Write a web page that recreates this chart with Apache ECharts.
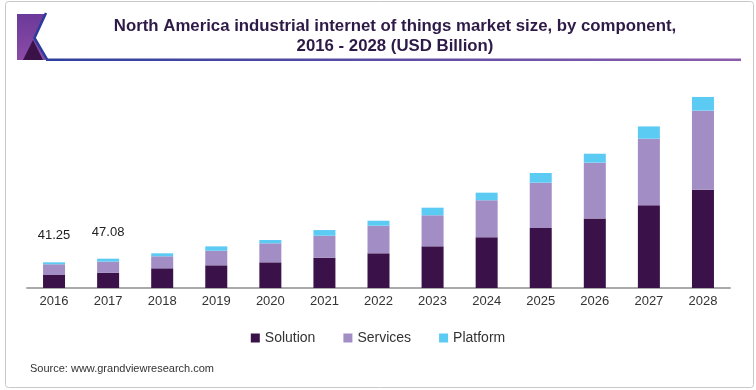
<!DOCTYPE html>
<html>
<head>
<meta charset="utf-8">
<style>
  html, body { margin: 0; padding: 0; background: #fff; }
  #chart { width: 756px; height: 390px; }
</style>
<script src="https://cdn.jsdelivr.net/npm/echarts@6/dist/echarts.min.js"></script>
</head>
<body>
<div id="chart"></div>
<script>
const years = ['2016','2017','2018','2019','2020','2021','2022','2023','2024','2025','2026','2027','2028'];
const solution = [20.9, 24.3, 31.6, 36.4, 41.2, 48.6, 55.7, 66.9, 81.4, 96.3, 111.7, 132.6, 157.8];
const services = [17.2, 18.0, 19.3, 23.4, 30.5, 35.3, 44.3, 49.8, 59.4, 72.7, 89.4, 107.0, 126.8];
const platform = [3.15, 4.78, 4.8, 7.0, 5.3, 9.1, 8.0, 12.2, 12.2, 15.6, 14.4, 19.7, 22.0];
const totalLabels = ['41.25', '47.08', '', '', '', '', '', '', '', '', '', '', ''];

const chart = echarts.init(document.getElementById('chart'), null, { renderer: 'canvas' });
const font = 'Liberation Sans, Arial, sans-serif';

chart.setOption({
  animation: false,
  backgroundColor: '#fff',
  title: [
    {
      text: 'North America industrial internet of things market size, by component,\n2016 - 2028 (USD Billion)',
      left: 395, top: 17, textAlign: 'center', padding: 0,
      textStyle: { fontFamily: font, fontSize: 16.8, fontWeight: 'bold', color: '#2e1a47', lineHeight: 19.5 }
    },
    {
      text: 'Source: www.grandviewresearch.com',
      left: 30, top: 363.5, padding: 0,
      textStyle: { fontFamily: font, fontSize: 11, fontWeight: 'normal', color: '#333' }
    }
  ],
  graphic: [
    { type: 'rect', shape: { x: 5.5, y: 1.5, width: 748, height: 386, r: 3 },
      style: { fill: 'none', stroke: '#c8c8c8', lineWidth: 1 }, z: 0 },
    { type: 'polygon', shape: { points: [[17, 14], [45, 14], [34, 38], [46, 60], [17, 60]] },
      style: { fill: new echarts.graphic.LinearGradient(0, 0, 0, 1, [
        { offset: 0, color: '#6c3a9a' }, { offset: 1, color: '#8b4ba6' }]) }, z: 1 },
    { type: 'polygon', shape: { points: [[23, 60], [33, 40], [43, 60]] },
      style: { fill: '#3a1248' }, z: 2 },
    { type: 'polyline', shape: { points: [[46, 13], [34.5, 38], [47, 59.5]] },
      style: { stroke: '#2b3a9c', lineWidth: 2.5, fill: 'none' }, z: 3 },
    { type: 'rect', shape: { x: 46, y: 58.5, width: 695, height: 2.5 },
      style: { fill: new echarts.graphic.LinearGradient(0, 0, 1, 0, [
        { offset: 0, color: '#2e3f9e' }, { offset: 1, color: '#8c5cab' }]) }, z: 3 }
  ],
  legend: {
    data: ['Solution', 'Services', 'Platform'],
    left: 'center', top: 326,
    icon: 'rect', itemWidth: 9, itemHeight: 9, itemGap: 28,
    textStyle: { fontFamily: font, fontSize: 14, color: '#333' }
  },
  grid: { left: 27, right: 26, top: 88.6, bottom: 102, containLabel: false },
  xAxis: {
    type: 'category', data: years,
    axisLine: { lineStyle: { color: '#aaa', width: 2 } },
    axisTick: { show: false },
    axisLabel: { fontFamily: font, fontSize: 13, color: '#333', margin: 7 }
  },
  yAxis: {
    type: 'value', min: 0, max: 320, show: false,
    splitLine: { show: false }
  },
  series: [
    { name: 'Solution', type: 'bar', stack: 'total', barWidth: 22, data: solution,
      itemStyle: { color: '#3a1149' } },
    { name: 'Services', type: 'bar', stack: 'total', barWidth: 22, data: services,
      itemStyle: { color: '#a28dc5' } },
    { name: 'Platform', type: 'bar', stack: 'total', barWidth: 22, data: platform,
      itemStyle: { color: '#5ccbf4' },
      label: {
        show: true, position: 'top', distance: 20,
        fontFamily: font, fontSize: 13, color: '#222',
        formatter: p => totalLabels[p.dataIndex]
      } }
  ]
});
</script>
</body>
</html>
